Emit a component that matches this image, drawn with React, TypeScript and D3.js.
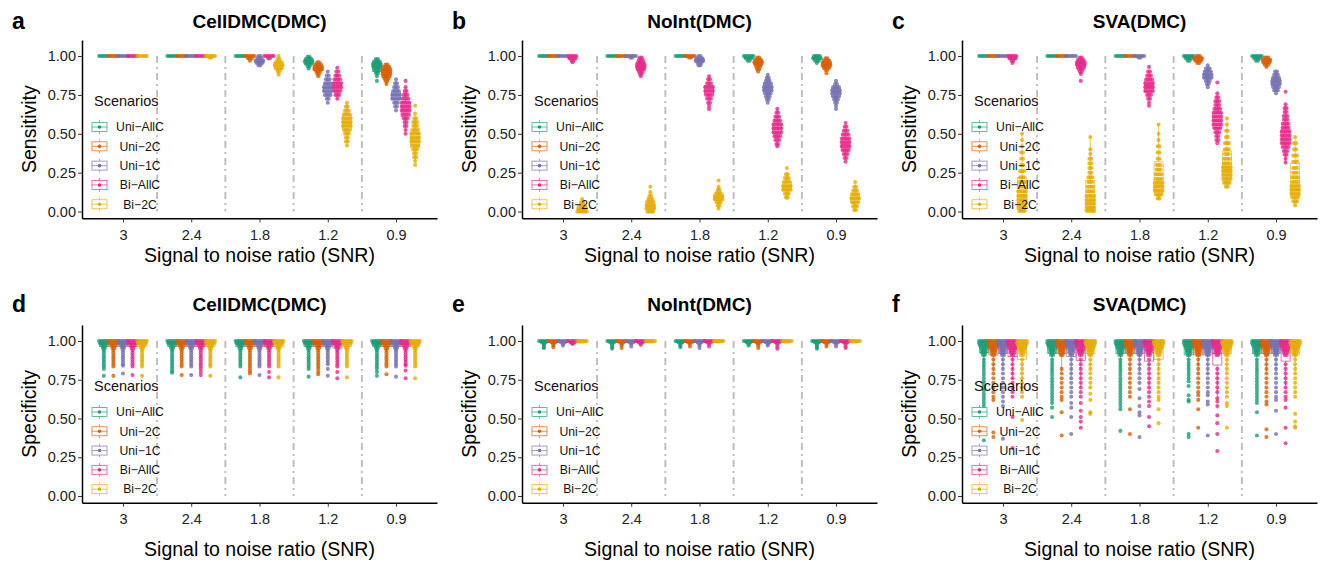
import React, { useEffect, useRef } from "react";
import * as d3 from "d3";

const FONT = "'Liberation Sans', Arial, Helvetica, sans-serif";

const snr = ["3", "2.4", "1.8", "1.2", "0.9"];
const scenarios = ["Uni−AllC", "Uni−2C", "Uni−1C", "Bi−AllC", "Bi−2C"];
const colors = ["#1B9E77", "#D95F02", "#7570B3", "#E7298A", "#E6AB02"];
const yTicks = [0, 0.25, 0.5, 0.75, 1];

// boxes: one entry per SNR x scenario, [lower whisker, q1, median, q3, upper whisker]
// rows: swarm rows as flat pairs [value, dots in row, value, dots, ...]
// dots: single points stacked in a column below the swarm head
const flat = [1, 1, 1, 1, 1];
const flatRow = [1, 6];

const boxA = [
  flat, flat, flat, flat, flat,
  flat, flat, flat, flat, flat,
  flat, [0.97, 1, 1, 1, 1], [0.94, 0.955, 0.965, 0.98, 1], [0.985, 1, 1, 1, 1], [0.88, 0.92, 0.94, 0.96, 1],
  [0.92, 0.95, 0.97, 0.98, 1], [0.87, 0.91, 0.925, 0.94, 0.96], [0.72, 0.77, 0.795, 0.815, 0.87], [0.72, 0.78, 0.81, 0.83, 0.89], [0.44, 0.53, 0.57, 0.62, 0.7],
  [0.87, 0.9, 0.925, 0.95, 0.98], [0.82, 0.86, 0.885, 0.91, 0.95], [0.67, 0.72, 0.75, 0.77, 0.84], [0.52, 0.61, 0.66, 0.7, 0.8], [0.31, 0.41, 0.46, 0.51, 0.62],
];
const rowsA = [
  flatRow, flatRow, flatRow, flatRow, flatRow,
  flatRow, flatRow, flatRow, flatRow, [1, 6, 0.99, 2],
  flatRow, [1, 6, 0.985, 3, 0.97, 1], [1, 2, 0.985, 3, 0.97, 5, 0.955, 4, 0.94, 2], [1, 6, 0.985, 2],
  [1, 1, 0.98, 2, 0.96, 4, 0.94, 5, 0.92, 4, 0.9, 2, 0.88, 1],
  [0.995, 2, 0.98, 4, 0.965, 5, 0.95, 4, 0.935, 2, 0.92, 1],
  [0.96, 2, 0.945, 4, 0.93, 5, 0.915, 5, 0.9, 3, 0.885, 2, 0.87, 1],
  [0.9, 1, 0.875, 2, 0.85, 3, 0.825, 4, 0.8, 5, 0.775, 5, 0.75, 4, 0.725, 2, 0.7, 1],
  [0.925, 1, 0.9, 2, 0.875, 3, 0.85, 4, 0.825, 5, 0.8, 5, 0.775, 4, 0.75, 3, 0.725, 1],
  [0.7, 1, 0.675, 2, 0.65, 3, 0.625, 4, 0.6, 5, 0.575, 5, 0.55, 5, 0.525, 4, 0.5, 3, 0.475, 2, 0.45, 2, 0.425, 1],
  [0.98, 2, 0.965, 4, 0.95, 5, 0.935, 5, 0.92, 4, 0.905, 3, 0.89, 2, 0.87, 1, 0.84, 1],
  [0.945, 2, 0.93, 4, 0.915, 5, 0.9, 5, 0.885, 5, 0.87, 4, 0.855, 3, 0.84, 2, 0.82, 1],
  [0.85, 1, 0.825, 2, 0.8, 3, 0.775, 4, 0.75, 5, 0.725, 5, 0.7, 3, 0.675, 2, 0.65, 1],
  [0.84, 1, 0.8, 1, 0.775, 2, 0.75, 3, 0.725, 4, 0.7, 5, 0.675, 5, 0.65, 5, 0.625, 4, 0.6, 3, 0.575, 2, 0.55, 2, 0.525, 1, 0.5, 1],
  [0.68, 1, 0.63, 1, 0.6, 2, 0.575, 3, 0.55, 3, 0.525, 4, 0.5, 5, 0.475, 5, 0.45, 5, 0.425, 4, 0.4, 3, 0.375, 2, 0.35, 2, 0.325, 1, 0.3, 1],
];

const boxB = [
  flat, flat, flat, [0.96, 0.98, 0.99, 1, 1], [0, 0.01, 0.02, 0.04, 0.08],
  flat, flat, [0.99, 1, 1, 1, 1], [0.87, 0.91, 0.93, 0.95, 0.99], [0, 0.02, 0.04, 0.07, 0.13],
  flat, [0.99, 1, 1, 1, 1], [0.94, 0.96, 0.97, 0.985, 1], [0.7, 0.75, 0.78, 0.81, 0.87], [0.02, 0.07, 0.09, 0.12, 0.16],
  [0.97, 0.985, 0.99, 1, 1], [0.91, 0.945, 0.96, 0.975, 1], [0.72, 0.77, 0.8, 0.83, 0.88], [0.43, 0.5, 0.54, 0.57, 0.66], [0.09, 0.14, 0.16, 0.19, 0.25],
  [0.96, 0.98, 0.99, 1, 1], [0.9, 0.93, 0.945, 0.965, 0.99], [0.68, 0.74, 0.77, 0.795, 0.84], [0.33, 0.4, 0.43, 0.46, 0.56], [0, 0.06, 0.09, 0.12, 0.18],
];
const rowsB = [
  flatRow, flatRow, flatRow, [1, 5, 0.985, 4, 0.97, 2, 0.96, 1], [0.08, 1, 0.06, 2, 0.04, 3, 0.02, 5, 0, 6],
  flatRow, flatRow, [1, 6, 0.99, 2],
  [0.99, 2, 0.975, 3, 0.96, 4, 0.945, 5, 0.93, 5, 0.915, 4, 0.9, 3, 0.885, 2, 0.87, 1],
  [0.16, 1, 0.125, 1, 0.1, 2, 0.08, 3, 0.06, 4, 0.04, 5, 0.02, 5, 0, 4],
  flatRow, [1, 6, 0.99, 2], [1, 2, 0.985, 4, 0.97, 5, 0.955, 3, 0.94, 2],
  [0.87, 1, 0.85, 2, 0.825, 3, 0.8, 5, 0.775, 5, 0.75, 4, 0.725, 3, 0.7, 2, 0.68, 1, 0.66, 1],
  [0.2, 1, 0.16, 1, 0.14, 2, 0.12, 3, 0.1, 5, 0.08, 5, 0.06, 3, 0.04, 2, 0.02, 1],
  [1, 6, 0.985, 4, 0.97, 2],
  [0.99, 2, 0.975, 4, 0.96, 5, 0.945, 4, 0.93, 3, 0.915, 2, 0.9, 1],
  [0.88, 1, 0.86, 2, 0.84, 3, 0.82, 4, 0.8, 5, 0.78, 5, 0.76, 4, 0.74, 3, 0.72, 2, 0.7, 1],
  [0.66, 1, 0.635, 2, 0.61, 3, 0.585, 4, 0.56, 5, 0.535, 5, 0.51, 5, 0.485, 4, 0.46, 3, 0.435, 2, 0.42, 1],
  [0.28, 1, 0.24, 2, 0.215, 3, 0.19, 4, 0.165, 5, 0.14, 5, 0.115, 3, 0.09, 2],
  [1, 4, 0.985, 5, 0.97, 3, 0.955, 1],
  [0.985, 2, 0.97, 4, 0.955, 5, 0.94, 5, 0.925, 4, 0.91, 2, 0.89, 1],
  [0.84, 1, 0.82, 2, 0.8, 4, 0.78, 5, 0.76, 5, 0.74, 4, 0.72, 3, 0.7, 2, 0.68, 1, 0.66, 1],
  [0.57, 1, 0.545, 2, 0.52, 3, 0.495, 4, 0.47, 5, 0.445, 5, 0.42, 5, 0.395, 4, 0.37, 3, 0.345, 2, 0.32, 1],
  [0.19, 1, 0.16, 2, 0.135, 3, 0.11, 4, 0.085, 5, 0.06, 4, 0.035, 3, 0.01, 2],
];

const boxC = [
  flat, flat, flat, [0.955, 0.98, 0.99, 1, 1], [0, 0.05, 0.11, 0.22, 0.5],
  flat, flat, flat, [0.88, 0.92, 0.94, 0.96, 0.99], [0, 0.03, 0.07, 0.2, 0.48],
  flat, flat, [0.99, 1, 1, 1, 1], [0.71, 0.77, 0.81, 0.84, 0.9], [0.08, 0.12, 0.17, 0.32, 0.56],
  [0.97, 0.99, 1, 1, 1], [0.95, 0.97, 0.98, 0.99, 1], [0.81, 0.86, 0.88, 0.9, 0.94], [0.45, 0.54, 0.58, 0.63, 0.76], [0.16, 0.22, 0.27, 0.39, 0.6],
  [0.97, 0.99, 1, 1, 1], [0.93, 0.955, 0.965, 0.98, 1], [0.77, 0.81, 0.835, 0.86, 0.9], [0.32, 0.44, 0.48, 0.53, 0.69], [0.04, 0.1, 0.14, 0.31, 0.48],
];
const rowsC = [
  flatRow, flatRow, flatRow, [1, 5, 0.985, 4, 0.97, 2, 0.955, 1],
  [0.5, 1, 0.46, 1, 0.42, 1, 0.38, 2, 0.34, 2, 0.3, 2, 0.26, 3, 0.22, 3, 0.19, 4, 0.16, 4, 0.13, 5, 0.1, 5, 0.075, 5, 0.05, 5, 0.025, 5, 0.005, 4],
  flatRow, flatRow, flatRow,
  [0.99, 2, 0.975, 4, 0.96, 5, 0.945, 5, 0.93, 4, 0.915, 3, 0.9, 2, 0.885, 1, 0.84, 1],
  [0.48, 1, 0.4, 1, 0.37, 1, 0.34, 2, 0.31, 2, 0.28, 2, 0.25, 2, 0.22, 3, 0.19, 3, 0.16, 4, 0.13, 4, 0.1, 5, 0.075, 5, 0.05, 5, 0.025, 5, 0.005, 5],
  flatRow, flatRow, [1, 6, 0.99, 2],
  [0.93, 1, 0.9, 2, 0.875, 3, 0.85, 4, 0.825, 5, 0.8, 5, 0.775, 5, 0.75, 3, 0.725, 2, 0.7, 1, 0.68, 1],
  [0.56, 1, 0.5, 1, 0.46, 1, 0.42, 2, 0.38, 2, 0.34, 2, 0.3, 3, 0.27, 3, 0.24, 4, 0.21, 4, 0.185, 5, 0.16, 5, 0.135, 5, 0.11, 4, 0.085, 2],
  [1, 6, 0.985, 4, 0.97, 2],
  [1, 3, 0.985, 5, 0.97, 4, 0.955, 2],
  [0.94, 1, 0.92, 3, 0.9, 4, 0.88, 5, 0.86, 5, 0.84, 3, 0.82, 2, 0.8, 1],
  [0.83, 1, 0.76, 1, 0.735, 2, 0.71, 3, 0.685, 3, 0.66, 4, 0.635, 5, 0.61, 5, 0.585, 5, 0.56, 5, 0.535, 4, 0.51, 3, 0.485, 2, 0.46, 2, 0.44, 1],
  [0.6, 1, 0.56, 1, 0.52, 2, 0.48, 2, 0.44, 3, 0.4, 3, 0.37, 3, 0.34, 4, 0.31, 4, 0.285, 5, 0.26, 5, 0.235, 5, 0.21, 5, 0.185, 4, 0.16, 2],
  [1, 6, 0.985, 4, 0.97, 2],
  [0.99, 3, 0.975, 5, 0.96, 4, 0.945, 3, 0.93, 1],
  [0.9, 2, 0.88, 3, 0.86, 4, 0.84, 5, 0.82, 5, 0.8, 4, 0.78, 3, 0.76, 1],
  [0.77, 1, 0.69, 1, 0.665, 2, 0.64, 2, 0.615, 3, 0.59, 3, 0.565, 4, 0.54, 4, 0.515, 5, 0.49, 5, 0.465, 5, 0.44, 5, 0.415, 4, 0.39, 3, 0.365, 2, 0.34, 1, 0.315, 1],
  [0.48, 1, 0.44, 2, 0.4, 2, 0.36, 3, 0.32, 3, 0.28, 3, 0.25, 3, 0.22, 4, 0.19, 4, 0.165, 5, 0.14, 5, 0.115, 5, 0.09, 4, 0.065, 3, 0.04, 1],
];

// specificity panels: shared wide head near 1.00, then per-group columns
const boxDs = [0.93, 0.965, 0.985, 1, 1];
const headD = [1, 6, 0.985, 5, 0.97, 3, 0.955, 2];
const boxD = [
  boxDs, boxDs, boxDs, boxDs, boxDs,
  boxDs, boxDs, boxDs, boxDs, boxDs,
  boxDs, boxDs, boxDs, boxDs, boxDs,
  boxDs, boxDs, boxDs, [0.92, 0.955, 0.98, 1, 1], boxDs,
  boxDs, boxDs, boxDs, boxDs, boxDs,
];
const rowsD = snr.flatMap(() => [headD, headD, headD, headD, headD]);
const dotsD = [
  [0.94, 0.925, 0.91, 0.895, 0.88, 0.865, 0.85, 0.835, 0.82, 0.775],
  [0.94, 0.925, 0.91, 0.895, 0.88, 0.865, 0.85, 0.835, 0.775],
  [0.94, 0.925, 0.91, 0.895, 0.88, 0.865, 0.85, 0.84, 0.79],
  [0.94, 0.925, 0.91, 0.895, 0.88, 0.865, 0.85, 0.835, 0.78],
  [0.94, 0.925, 0.91, 0.895, 0.88, 0.865, 0.85, 0.835, 0.775],
  [0.94, 0.925, 0.91, 0.895, 0.88, 0.865, 0.85, 0.835, 0.82, 0.805, 0.795],
  [0.94, 0.925, 0.91, 0.895, 0.88, 0.865, 0.85, 0.835, 0.78],
  [0.94, 0.925, 0.91, 0.895, 0.88, 0.865, 0.85, 0.835, 0.78],
  [0.94, 0.925, 0.91, 0.895, 0.88, 0.865, 0.85, 0.835, 0.82, 0.8, 0.78],
  [0.94, 0.925, 0.91, 0.895, 0.88, 0.865, 0.85, 0.835, 0.775],
  [0.94, 0.925, 0.91, 0.895, 0.88, 0.865, 0.85, 0.835, 0.765],
  [0.94, 0.925, 0.91, 0.895, 0.88, 0.865, 0.85, 0.835, 0.82, 0.805, 0.79],
  [0.94, 0.925, 0.91, 0.895, 0.88, 0.865, 0.85, 0.835, 0.78],
  [0.94, 0.925, 0.91, 0.895, 0.88, 0.865, 0.85, 0.835, 0.8, 0.765],
  [0.94, 0.925, 0.91, 0.895, 0.88, 0.865, 0.85, 0.835, 0.765],
  [0.94, 0.925, 0.91, 0.895, 0.88, 0.865, 0.85, 0.835, 0.82, 0.77],
  [0.94, 0.925, 0.91, 0.895, 0.88, 0.865, 0.85, 0.835, 0.82, 0.8, 0.785],
  [0.94, 0.925, 0.91, 0.895, 0.88, 0.865, 0.85, 0.82, 0.775],
  [0.94, 0.925, 0.91, 0.895, 0.88, 0.865, 0.85, 0.835, 0.8, 0.76],
  [0.94, 0.925, 0.91, 0.895, 0.88, 0.865, 0.85, 0.835, 0.765],
  [0.94, 0.925, 0.91, 0.895, 0.88, 0.865, 0.85, 0.835, 0.82, 0.8, 0.775],
  [0.94, 0.925, 0.91, 0.895, 0.88, 0.865, 0.85, 0.835, 0.785],
  [0.94, 0.925, 0.91, 0.895, 0.88, 0.865, 0.85, 0.835, 0.77],
  [0.94, 0.925, 0.91, 0.895, 0.88, 0.865, 0.85, 0.84, 0.81, 0.76],
  [0.94, 0.925, 0.91, 0.895, 0.88, 0.865, 0.85, 0.835, 0.76],
];

const boxEs = [0.975, 0.99, 1, 1, 1];
const headE = [1, 6, 0.99, 3];
const boxE = snr.flatMap(() => [boxEs, boxEs, boxEs, boxEs, flat]);
const rowsE = snr.flatMap(() => [headE, headE, headE, headE, [1, 6, 0.997, 3]]);
const dotsE = [
  [0.98, 0.97, 0.96, 0.955], [0.98, 0.97, 0.96], [0.98, 0.97], [0.985, 0.98], [],
  [0.98, 0.97, 0.96, 0.95], [0.98, 0.97, 0.955], [0.98, 0.965], [0.985, 0.975], [],
  [0.98, 0.97, 0.96], [0.98, 0.965], [0.98, 0.97, 0.955], [0.98, 0.965], [],
  [0.98, 0.97], [0.98, 0.97, 0.955], [0.98, 0.97], [0.98, 0.965, 0.95], [],
  [0.98, 0.97, 0.96, 0.95], [0.98, 0.965], [0.98, 0.965], [0.98, 0.965, 0.955], [],
];

const headF = [1, 6, 0.985, 6, 0.97, 5, 0.955, 4, 0.94, 3, 0.925, 3, 0.91, 2];
const boxF = [
  [0.82, 0.925, 0.97, 1, 1], [0.8, 0.91, 0.96, 1, 1], [0.82, 0.92, 0.965, 1, 1], [0.75, 0.9, 0.95, 1, 1], [0.72, 0.88, 0.95, 1, 1],
  [0.8, 0.92, 0.97, 1, 1], [0.8, 0.92, 0.965, 1, 1], [0.76, 0.9, 0.96, 1, 1], [0.7, 0.875, 0.94, 1, 1], [0.8, 0.92, 0.965, 1, 1],
  [0.8, 0.92, 0.97, 1, 1], [0.8, 0.92, 0.965, 1, 1], [0.8, 0.92, 0.965, 1, 1], [0.7, 0.87, 0.94, 1, 1], [0.72, 0.88, 0.95, 1, 1],
  [0.78, 0.91, 0.965, 1, 1], [0.78, 0.91, 0.96, 1, 1], [0.78, 0.91, 0.96, 1, 1], [0.62, 0.845, 0.92, 1, 1], [0.8, 0.92, 0.965, 1, 1],
  [0.8, 0.92, 0.97, 1, 1], [0.8, 0.92, 0.965, 1, 1], [0.8, 0.92, 0.965, 1, 1], [0.7, 0.87, 0.94, 1, 1], [0.78, 0.91, 0.96, 1, 1],
];
const rowsF = snr.flatMap(() => [headF, headF, headF, headF, headF]);
const dotsF = [
  [0.88, 0.86, 0.84, 0.82, 0.8, 0.78, 0.76, 0.74, 0.72, 0.7, 0.68, 0.66, 0.64, 0.62, 0.6, 0.58, 0.56, 0.535, 0.36],
  [0.88, 0.85, 0.82, 0.79, 0.76, 0.73, 0.7, 0.67, 0.64, 0.62, 0.41, 0.38],
  [0.88, 0.85, 0.82, 0.79, 0.76, 0.73, 0.7, 0.67, 0.64, 0.61, 0.58, 0.37],
  [0.88, 0.85, 0.82, 0.79, 0.76, 0.73, 0.7, 0.67, 0.64, 0.51, 0.31],
  [0.88, 0.85, 0.82, 0.79, 0.76, 0.73, 0.7, 0.67, 0.64, 0.49],
  [0.88, 0.86, 0.84, 0.82, 0.8, 0.78, 0.76, 0.74, 0.72, 0.7, 0.68, 0.66, 0.64, 0.62, 0.6, 0.57, 0.51],
  [0.82, 0.79, 0.76, 0.73, 0.7, 0.67, 0.64, 0.62, 0.54, 0.39],
  [0.88, 0.85, 0.82, 0.79, 0.76, 0.73, 0.7, 0.67, 0.64, 0.6, 0.57, 0.51, 0.4],
  [0.88, 0.85, 0.82, 0.79, 0.76, 0.73, 0.7, 0.67, 0.64, 0.6, 0.55, 0.51, 0.48, 0.44],
  [0.88, 0.85, 0.82, 0.79, 0.76, 0.73, 0.7, 0.66, 0.62, 0.54, 0.53],
  [0.88, 0.86, 0.84, 0.82, 0.8, 0.78, 0.76, 0.74, 0.72, 0.7, 0.68, 0.66, 0.64, 0.62, 0.6, 0.58, 0.56, 0.42],
  [0.88, 0.85, 0.82, 0.79, 0.76, 0.73, 0.7, 0.67, 0.64, 0.56, 0.4],
  [0.88, 0.85, 0.82, 0.79, 0.76, 0.73, 0.69, 0.63, 0.58, 0.54, 0.52, 0.38],
  [0.88, 0.85, 0.82, 0.79, 0.76, 0.73, 0.7, 0.67, 0.64, 0.61, 0.58, 0.51, 0.45],
  [0.88, 0.85, 0.82, 0.79, 0.76, 0.73, 0.7, 0.67, 0.64, 0.62, 0.56, 0.47],
  [0.88, 0.86, 0.84, 0.82, 0.8, 0.78, 0.76, 0.74, 0.71, 0.65, 0.62, 0.61, 0.4, 0.38],
  [0.88, 0.85, 0.82, 0.79, 0.76, 0.73, 0.7, 0.67, 0.65, 0.62, 0.56, 0.44],
  [0.88, 0.85, 0.82, 0.79, 0.76, 0.73, 0.7, 0.67, 0.65, 0.61, 0.59, 0.39],
  [0.82, 0.79, 0.76, 0.73, 0.7, 0.67, 0.63, 0.61, 0.58, 0.52, 0.47, 0.4, 0.29],
  [0.88, 0.85, 0.82, 0.79, 0.76, 0.73, 0.7, 0.67, 0.64, 0.6, 0.58, 0.44],
  [0.88, 0.86, 0.84, 0.82, 0.8, 0.78, 0.76, 0.74, 0.72, 0.7, 0.68, 0.66, 0.64, 0.62, 0.6, 0.54, 0.39],
  [0.88, 0.85, 0.82, 0.79, 0.76, 0.73, 0.7, 0.67, 0.64, 0.61, 0.59, 0.43, 0.38],
  [0.88, 0.85, 0.82, 0.79, 0.76, 0.73, 0.7, 0.67, 0.64, 0.62, 0.55, 0.4],
  [0.85, 0.82, 0.79, 0.76, 0.73, 0.7, 0.67, 0.64, 0.62, 0.57, 0.44, 0.34],
  [0.88, 0.85, 0.82, 0.79, 0.76, 0.73, 0.7, 0.67, 0.64, 0.53, 0.48, 0.45, 0.44],
];

const panels = [
  { letter: "a", title: "CellDMC(DMC)", ylab: "Sensitivity", col: 0, row: 0, box: boxA, rows: rowsA },
  { letter: "b", title: "NoInt(DMC)", ylab: "Sensitivity", col: 1, row: 0, box: boxB, rows: rowsB },
  { letter: "c", title: "SVA(DMC)", ylab: "Sensitivity", col: 2, row: 0, box: boxC, rows: rowsC },
  { letter: "d", title: "CellDMC(DMC)", ylab: "Specificity", col: 0, row: 1, box: boxD, rows: rowsD, dots: dotsD },
  { letter: "e", title: "NoInt(DMC)", ylab: "Specificity", col: 1, row: 1, box: boxE, rows: rowsE, dots: dotsE },
  { letter: "f", title: "SVA(DMC)", ylab: "Specificity", col: 2, row: 1, box: boxF, rows: rowsF, dots: dotsF },
];

const rowGeom = [
  { top: 40, bottom: 218.3, title: 28, xlab: 262 },
  { top: 325, bottom: 502.7, title: 311, xlab: 556 },
];

function drawPanel(svg: any, p: any) {
  const L = 82 + p.col * 440;
  const R = L + 355;
  const geo = rowGeom[p.row];
  const x = d3.scalePoint().domain(snr).range([L, R]).padding(0.6);
  const step = x.step();
  const y = d3.scaleLinear().domain([-0.043, 1.103]).range([geo.bottom, geo.top]);
  const g = svg.append("g").attr("font-family", FONT);

  // dash-dot separators between SNR levels
  g.append("g").selectAll("line").data(snr.slice(1)).join("line")
    .attr("x1", (d: string) => x(d)! - step / 2)
    .attr("x2", (d: string) => x(d)! - step / 2)
    .attr("y1", y(1)).attr("y2", y(0))
    .attr("stroke", "#bdbdbd").attr("stroke-width", 1.9)
    .attr("stroke-dasharray", "7,4,2,4");

  const groups = p.box.map((b: number[], i: number) => ({
    b,
    rows: p.rows[i],
    dots: p.dots ? p.dots[i] : [],
    k: i % 5,
    cx: x(snr[Math.floor(i / 5)])! + ((i % 5) - 2) * 0.14 * step,
  }));

  // boxplots
  const bw = 9;
  const bx = g.append("g").selectAll("g").data(groups).join("g")
    .attr("stroke", (d: any) => colors[d.k]).attr("fill", "none")
    .attr("stroke-width", 0.8).attr("stroke-opacity", 0.8);
  bx.append("line").attr("x1", (d: any) => d.cx).attr("x2", (d: any) => d.cx)
    .attr("y1", (d: any) => y(d.b[4])).attr("y2", (d: any) => y(d.b[3]));
  bx.append("line").attr("x1", (d: any) => d.cx).attr("x2", (d: any) => d.cx)
    .attr("y1", (d: any) => y(d.b[1])).attr("y2", (d: any) => y(d.b[0]));
  bx.append("rect").attr("x", (d: any) => d.cx - bw / 2).attr("width", bw)
    .attr("y", (d: any) => y(d.b[3])).attr("height", (d: any) => y(d.b[1]) - y(d.b[3]));
  bx.append("line").attr("x1", (d: any) => d.cx - bw / 2).attr("x2", (d: any) => d.cx + bw / 2)
    .attr("y1", (d: any) => y(d.b[2])).attr("y2", (d: any) => y(d.b[2])).attr("stroke-width", 1.2);

  // swarm points
  const pts: any[] = [];
  groups.forEach((d: any) => {
    for (let r = 0; r < d.rows.length; r += 2) {
      const v = d.rows[r];
      const n = d.rows[r + 1];
      for (let j = 0; j < n; j++) pts.push({ x: d.cx + (j - (n - 1) / 2) * 1.9, y: y(v), k: d.k });
    }
    d.dots.forEach((v: number) => pts.push({ x: d.cx, y: y(v), k: d.k }));
  });
  g.append("g").selectAll("circle").data(pts).join("circle")
    .attr("cx", (d: any) => d.x).attr("cy", (d: any) => d.y).attr("r", 2.05)
    .attr("fill", (d: any) => colors[d.k]).attr("fill-opacity", 0.8);

  // axes
  const ya = g.append("g").attr("transform", `translate(${L},0)`)
    .call(d3.axisLeft(y).tickValues(yTicks).tickFormat(d3.format(".2f")).tickSize(4).tickSizeOuter(0).tickPadding(2));
  const xa = g.append("g").attr("transform", `translate(0,${geo.bottom})`)
    .call(d3.axisBottom(x).tickSize(4).tickSizeOuter(0).tickPadding(7));
  [ya, xa].forEach((a) => {
    a.select(".domain").attr("stroke", "#000").attr("stroke-width", 1.5);
    a.selectAll(".tick line").attr("stroke", "#333").attr("stroke-width", 1);
    a.selectAll("text").attr("font-size", 14.5).attr("fill", "#222").attr("font-family", FONT);
  });

  // legend
  const y1 = y(1);
  const lg = g.append("g");
  lg.append("text").attr("x", L + 12).attr("y", y1 + 50).attr("font-size", 14.5).attr("fill", "#111").text("Scenarios");
  const items = lg.selectAll("g.key").data(scenarios).join("g")
    .attr("transform", (_: string, i: number) => `translate(0,${y1 + 71 + i * 19.3})`);
  items.append("line").attr("x1", L + 17.5).attr("x2", L + 17.5).attr("y1", -7).attr("y2", 7)
    .attr("stroke", (_: string, i: number) => colors[i]).attr("stroke-opacity", 0.75).attr("stroke-width", 0.8);
  items.append("rect").attr("x", L + 10).attr("y", -4.5).attr("width", 15).attr("height", 9)
    .attr("fill", "#fff").attr("stroke", (_: string, i: number) => colors[i]).attr("stroke-opacity", 0.75).attr("stroke-width", 0.9);
  items.append("line").attr("x1", L + 10).attr("x2", L + 25).attr("y1", 0).attr("y2", 0)
    .attr("stroke", (_: string, i: number) => colors[i]).attr("stroke-opacity", 0.75).attr("stroke-width", 0.9);
  items.append("circle").attr("cx", L + 17.5).attr("cy", 0).attr("r", 1.8)
    .attr("fill", (_: string, i: number) => colors[i]);
  items.append("text").attr("x", L + 58).attr("y", 4.3).attr("text-anchor", "middle")
    .attr("font-size", 12.2).attr("fill", "#111").text((d: string) => d);

  // titles
  g.append("text").attr("x", (L + R) / 2).attr("y", geo.title).attr("text-anchor", "middle")
    .attr("font-size", 19).attr("font-weight", "bold").attr("fill", "#000").text(p.title);
  g.append("text").attr("x", L - 70).attr("y", geo.title + 1).attr("font-size", 23)
    .attr("font-weight", "bold").attr("fill", "#000").text(p.letter);
  g.append("text").attr("x", (L + R) / 2).attr("y", geo.xlab).attr("text-anchor", "middle")
    .attr("font-size", 19.5).attr("fill", "#000").text("Signal to noise ratio (SNR)");
  g.append("text").attr("transform", `translate(${L - 46.5},${(geo.top + geo.bottom) / 2}) rotate(-90)`)
    .attr("text-anchor", "middle").attr("font-size", 19.5).attr("fill", "#000").text(p.ylab);
}

export default function App() {
  const ref = useRef<SVGSVGElement>(null);

  useEffect(() => {
    const svg = d3.select(ref.current);
    svg.selectAll("*").remove();
    panels.forEach((p) => drawPanel(svg, p));
  }, []);

  return (
    <svg ref={ref} width={1326} height={563}
      style={{ position: "absolute", left: 0, top: 0, background: "#fff" }} />
  );
}
